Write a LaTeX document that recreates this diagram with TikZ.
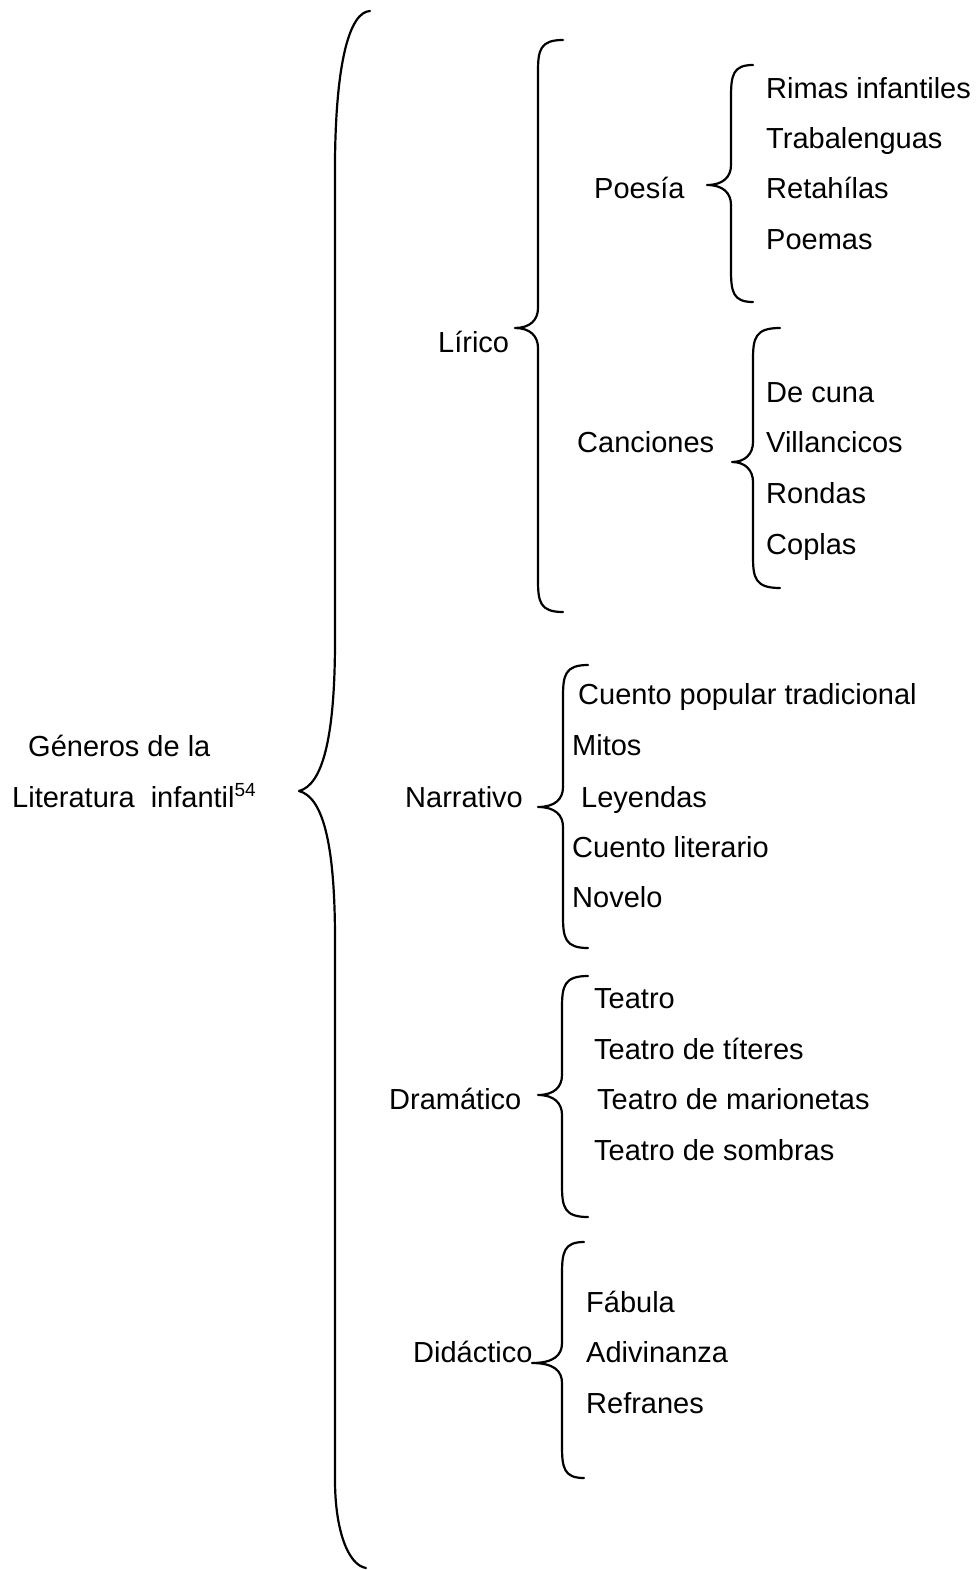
\documentclass[tikz,border=0pt]{standalone}
\usepackage{fontspec}
\setmainfont{Liberation Sans}
\usepackage{tikz}

\tikzset{
  item/.style={anchor=base west, inner sep=0pt, yshift=-2pt, font=\fontsize{29}{35}\selectfont},
  bracestyle/.style={line width=2.2pt, line cap=round, line join=round}
}
% #1 spine x, #2 end x, #3 tip x, #4 top y, #5 tip y, #6 bottom y
\newcommand{\curlybrace}[6]{%
  \draw[bracestyle] (#2,#4) .. controls ({#1+2},#4) and (#1,{#4+10}) .. (#1,{#4+32})
    -- (#1,{#5-20}) .. controls (#1,{#5-8}) and ({#1-8},#5) .. (#3,#5)
    .. controls ({#1-8},#5) and (#1,{#5+8}) .. (#1,{#5+20})
    -- (#1,{#6-32}) .. controls (#1,{#6-10}) and ({#1+2},#6) .. (#2,#6);}

\begin{document}
\begin{tikzpicture}[x=1pt,y=-1pt]
\useasboundingbox (0,0) rectangle (978,1570);

% root
\node[item] (generos) at (28,754) {Géneros de la};
\node[item] (literatura) at (12,805) {Literatura~ infantil\raisebox{11pt}{\fontsize{19}{19}\selectfont 54}};

% first level
\node[item] (lirico) at (438,350) {Lírico};
\node[item] (narrativo) at (405,805) {Narrativo};
\node[item] (dramatico) at (389,1107) {Dramático};
\node[item] (didactico) at (413,1360) {Didáctico};

% lirico
\node[item] (poesia) at (594,197) {Poesía};
\node[item] (canciones) at (577,450) {Canciones};
\node[item] (rimas) at (766,97) {Rimas infantiles};
\node[item] (trabalenguas) at (766,147) {Trabalenguas};
\node[item] (retahilas) at (766,197) {Retahílas};
\node[item] (poemas) at (766,248) {Poemas};
\node[item] (decuna) at (766,400) {De cuna};
\node[item] (villancicos) at (766,450) {Villancicos};
\node[item] (rondas) at (766,501) {Rondas};
\node[item] (coplas) at (766,552) {Coplas};

% narrativo
\node[item] (cuentopop) at (578,702) {Cuento popular tradicional};
\node[item] (mitos) at (572,753) {Mitos};
\node[item] (leyendas) at (581,805) {Leyendas};
\node[item] (cuentolit) at (572,855) {Cuento literario};
\node[item] (novelo) at (572,905) {Novelo};

% dramatico
\node[item] (teatro) at (594,1006) {Teatro};
\node[item] (titeres) at (594,1057) {Teatro de títeres};
\node[item] (marionetas) at (597,1107) {Teatro de marionetas};
\node[item] (sombras) at (594,1158) {Teatro de sombras};

% didactico
\node[item] (fabula) at (586,1310) {Fábula};
\node[item] (adivinanza) at (586,1360) {Adivinanza};
\node[item] (refranes) at (586,1411) {Refranes};

% big brace
\draw[bracestyle] (370,11) .. controls (350,12) and (336,60) .. (335,160)
  -- (335,640) .. controls (335,740) and (322,785) .. (299,791)
  .. controls (322,797) and (335,840) .. (335,940)
  -- (335,1480) .. controls (335,1530) and (348,1565) .. (366,1568);

% small braces
\curlybrace{538}{563}{515}{40}{328}{612}
\curlybrace{731}{753}{707}{65}{185}{302}
\curlybrace{753}{780}{732}{328}{462}{588}
\curlybrace{563}{588}{538}{665}{807}{948}
\curlybrace{562}{588}{538}{976}{1095}{1217}
\curlybrace{562}{584}{532}{1242}{1363}{1478}
\end{tikzpicture}
\end{document}
